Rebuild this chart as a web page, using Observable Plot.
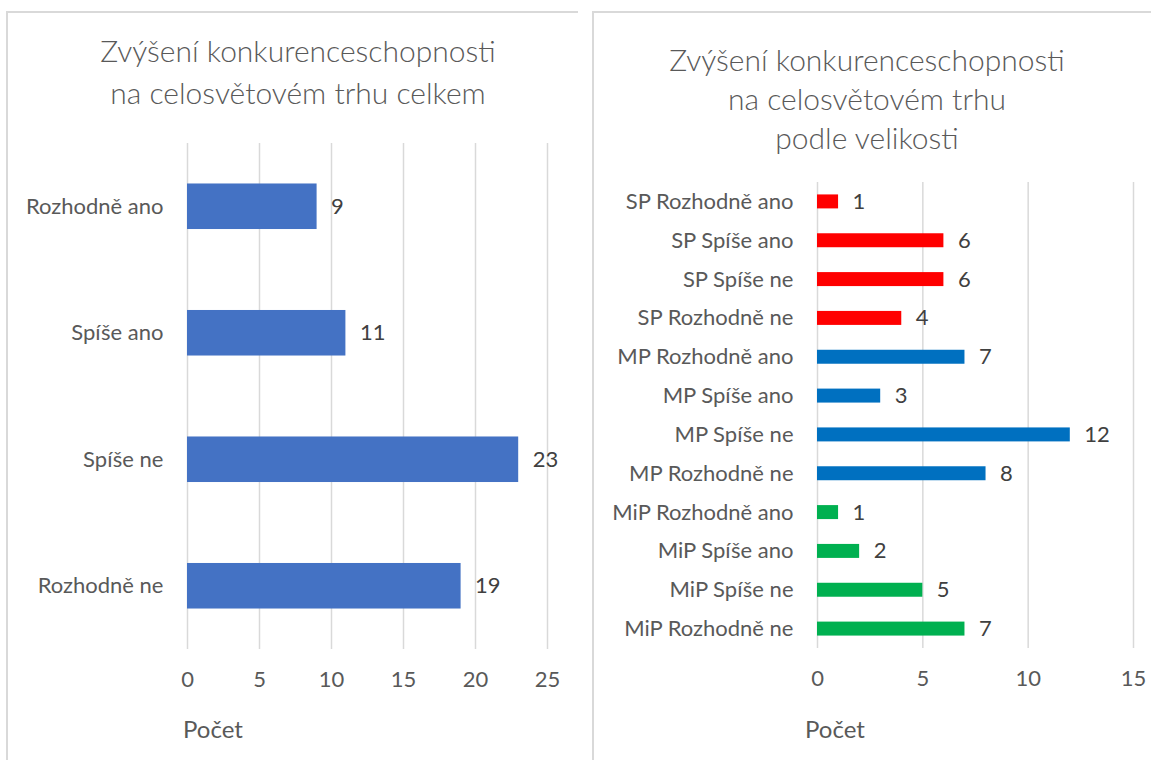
<!DOCTYPE html>
<html>
<head>
<meta charset="utf-8">
<script src="https://cdn.jsdelivr.net/npm/d3@7"></script>
<script src="https://cdn.jsdelivr.net/npm/@observablehq/plot@0.6"></script>
<style>
  html, body { margin: 0; padding: 0; background: #fff; }
  #wrap { position: relative; width: 1151px; height: 760px; overflow: hidden; font-family: Lato, "Open Sans", sans-serif; }
  .panel { position: absolute; border-top: 2px solid #d9d9d9; border-left: 2px solid #d9d9d9; box-sizing: border-box; }
  .title { position: absolute; text-align: center; color: #595959; font-size: 30px; font-weight: 300; line-height: 40px; white-space: nowrap; }
  .xlabel { position: absolute; color: #595959; font-size: 24px; }
  .chart { position: absolute; top: 0; }
</style>
</head>
<body>
<div id="wrap">
  <div class="panel" style="left:6px; top:11px; width:572px; height:760px;"></div>
  <div class="panel" style="left:592px; top:11px; width:570px; height:760px;"></div>
  <div class="title" id="t1" style="left:98px; width:400px; top:29px; line-height:42px;"></div>
  <div class="title" id="t2" style="left:667px; width:400px; top:40px; line-height:39px;"></div>
  <div class="xlabel" id="x1" style="left:183px; top:714px;"></div>
  <div class="xlabel" id="x2" style="left:805px; top:714px;"></div>
  <div class="chart" id="c1" style="left:0px;"></div>
  <div class="chart" id="c2" style="left:593px;"></div>
</div>
<script>
// ---- data ----
const leftTitle = ["Zvýšení konkurenceschopnosti", "na celosvětovém trhu celkem"];
const rightTitle = ["Zvýšení konkurenceschopnosti", "na celosvětovém trhu", "podle velikosti"];
const axisLabel = "Počet";

const leftCategories = ["Rozhodně ano", "Spíše ano", "Spíše ne", "Rozhodně ne"];
const leftValues = [9, 11, 23, 19];
const leftTicks = [0, 5, 10, 15, 20, 25];

const rightCategories = [
  "SP Rozhodně ano", "SP Spíše ano", "SP Spíše ne", "SP Rozhodně ne",
  "MP Rozhodně ano", "MP Spíše ano", "MP Spíše ne", "MP Rozhodně ne",
  "MiP Rozhodně ano", "MiP Spíše ano", "MiP Spíše ne", "MiP Rozhodně ne"
];
const rightValues = [1, 6, 6, 4, 7, 3, 12, 8, 1, 2, 5, 7];
const rightGroups = ["SP", "SP", "SP", "SP", "MP", "MP", "MP", "MP", "MiP", "MiP", "MiP", "MiP"];
const rightTicks = [0, 5, 10, 15];

const groupNames = ["SP", "MP", "MiP"];
const groupColors = ["#FF0000", "#0070C0", "#00B050"];
const leftColor = "#4472C4";

// ---- titles ----
document.getElementById("t1").innerHTML = leftTitle.join("<br>");
document.getElementById("t2").innerHTML = rightTitle.join("<br>");
document.getElementById("x1").textContent = axisLabel;
document.getElementById("x2").textContent = axisLabel;

const leftData = leftCategories.map((c, i) => ({c, v: leftValues[i]}));
const rightData = rightCategories.map((c, i) => ({c, v: rightValues[i], g: rightGroups[i]}));

const font = {fontFamily: "Lato, 'Open Sans', sans-serif", fontSize: "22px", color: "#595959", background: "transparent", overflow: "visible"};

const left = Plot.plot({
  width: 578, height: 700,
  marginLeft: 187, marginRight: 31, marginTop: 143, marginBottom: 51,
  style: font,
  x: {domain: [0, 25], label: null},
  y: {domain: leftCategories, paddingInner: 0.64, paddingOuter: 0.32, round: false, label: null},
  marks: [
    Plot.gridX(leftTicks, {stroke: "#d9d9d9", strokeOpacity: 1, strokeWidth: 1.5}),
    Plot.barX(leftData, {x: "v", y: "c", fill: leftColor}),
    Plot.text(leftData, {x: "v", y: "c", text: d => String(d.v), dx: 14, textAnchor: "start", fill: "#404040"}),
    Plot.axisX(leftTicks, {tickSize: 0, tickPadding: 22, label: null, fill: "#595959"}),
    Plot.axisY({tickSize: 0, tickPadding: 24, label: null, fill: "#595959"})
  ]
});
document.getElementById("c1").appendChild(left);

const right = Plot.plot({
  width: 558, height: 700,
  marginLeft: 224, marginRight: 18, marginTop: 182, marginBottom: 52,
  style: font,
  x: {domain: [0, 15], label: null},
  y: {domain: rightCategories, paddingInner: 0.64, paddingOuter: 0.32, round: false, label: null},
  color: {domain: groupNames, range: groupColors},
  marks: [
    Plot.gridX(rightTicks, {stroke: "#d9d9d9", strokeOpacity: 1, strokeWidth: 1.5}),
    Plot.barX(rightData, {x: "v", y: "c", fill: "g"}),
    Plot.text(rightData, {x: "v", y: "c", text: d => String(d.v), dx: 14, textAnchor: "start", fill: "#404040"}),
    Plot.axisX(rightTicks, {tickSize: 0, tickPadding: 22, label: null, fill: "#595959"}),
    Plot.axisY({tickSize: 0, tickPadding: 24, label: null, fill: "#595959"})
  ]
});
document.getElementById("c2").appendChild(right);
</script>
</body>
</html>
